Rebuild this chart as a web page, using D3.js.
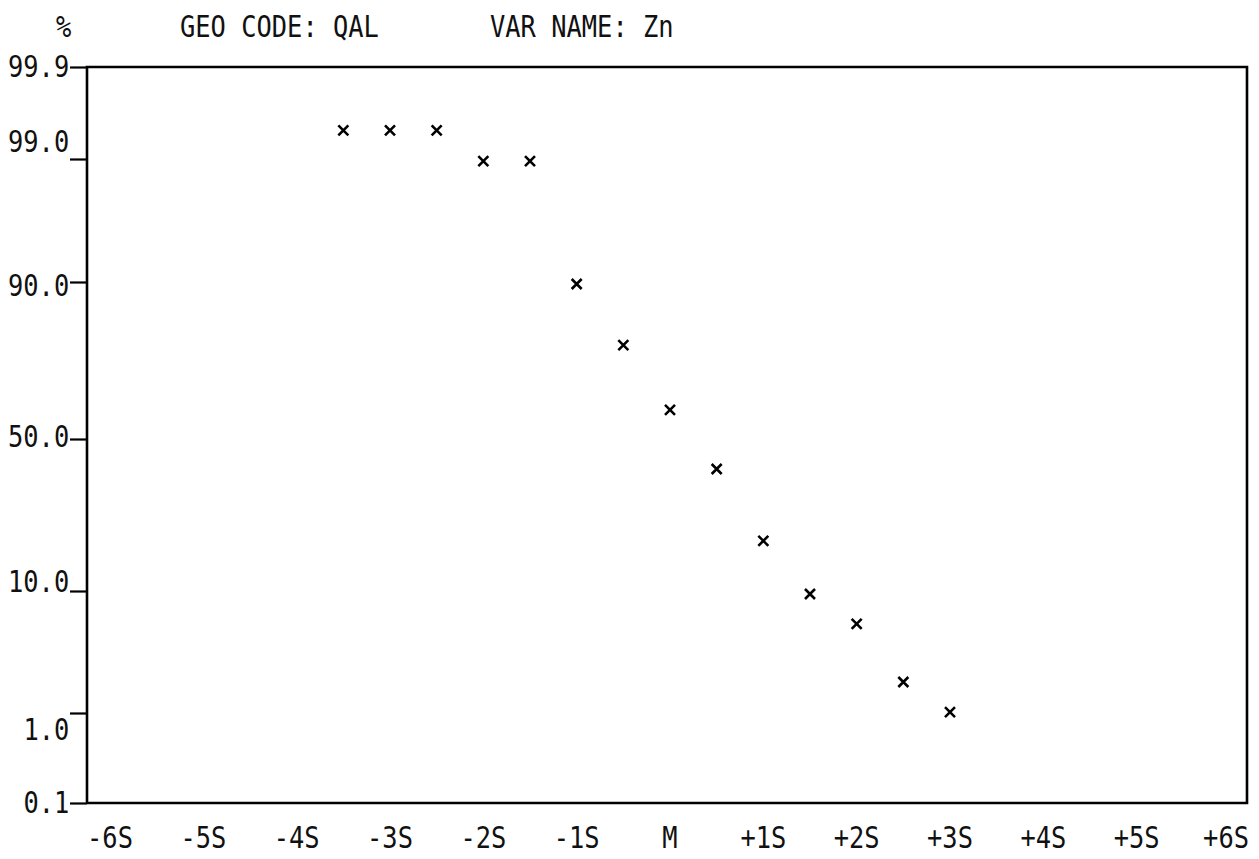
<!DOCTYPE html>
<html>
<head>
<meta charset="utf-8">
<script src="https://cdn.jsdelivr.net/npm/d3@7"></script>
<style>
  html, body { margin: 0; padding: 0; background: #ffffff; }
  svg { display: block; }
  text { font-family: "DejaVu Sans Mono", monospace; fill: #111; }
</style>
</head>
<body>
<svg id="chart" width="1259" height="859"></svg>
<script>
// ---- data ----
const titleParts = ["%", "GEO CODE: QAL", "VAR NAME: Zn"];
const sigmaPos = [-3.5, -3, -2.5, -2, -1.5, -1, -0.5, 0, 0.5, 1, 1.5, 2, 2.5, 3];
const cumPercent = [99.28, 99.28, 99.28, 98.85, 98.85, 89.5, 73.9, 57.4, 42.1, 23.2, 9.78, 7.57, 3.29, 1.07];
const yTickValues = [0.1, 1, 10, 50, 90, 99, 99.9];
const yTickLabels = ["0.1", "1.0", "10.0", "50.0", "90.0", "99.0", "99.9"];
const xTickValues = [-6, -5, -4, -3, -2, -1, 0, 1, 2, 3, 4, 5, 6];
const xTickLabels = ["-6S", "-5S", "-4S", "-3S", "-2S", "-1S", "M", "+1S", "+2S", "+3S", "+4S", "+5S", "+6S"];

// ---- layout ----
const W = 1259;
const svg = d3.select("#chart");
const frame = { left: 87, right: 1247, top: 67, bottom: 803 };
const charW = 15.3;
const fontSize = 30;

// probability-paper style axis: piecewise scale through the printed tick positions
const y = d3.scaleLinear()
  .domain(yTickValues)
  .range([803, 713, 591, 439, 282, 159, 67]);
const x = d3.scaleLinear().domain([-6, 6]).range([110, 1230]);

function monoText(g, str, xStart, yBase) {
  return g.append("text")
    .attr("x", xStart)
    .attr("y", yBase)
    .attr("font-size", fontSize)
    .attr("textLength", str.length * charW)
    .attr("lengthAdjust", "spacingAndGlyphs")
    .attr("xml:space", "preserve")
    .text(str);
}

// ---- header ----
const head = svg.append("g");
const headCols = [0, 8, 28];
titleParts.forEach((t, i) => monoText(head, t, 56 + headCols[i] * 15.5, 37));

// ---- frame ----
svg.append("path")
  .attr("d", `M${frame.left},${frame.bottom}V${frame.top}H${frame.right}V${frame.bottom}H${frame.left}`)
  .attr("fill", "none")
  .attr("stroke", "#000")
  .attr("stroke-width", 2.6);

// ---- y axis ticks ----
const yAxis = d3.axisLeft(y).tickValues(yTickValues).tickSize(17).tickFormat(() => "");
const yg = svg.append("g").attr("transform", `translate(${frame.left},0)`).call(yAxis);
yg.select(".domain").remove();
yg.selectAll(".tick line").attr("stroke", "#000").attr("stroke-width", 2.2);

// y labels (printed on a character grid, so they sit a bit off their ticks)
const labelNudge = { 0.1: 10, 1: 27, 10: 1, 50: 8, 90: 14, 99: -7, 99.9: 10 };
const ylab = svg.append("g");
yTickValues.forEach((v, i) => {
  const s = yTickLabels[i];
  monoText(ylab, s, 70 - s.length * 15.5, y(v) + labelNudge[v]);
});

// ---- x labels ----
const xlab = svg.append("g");
xTickValues.forEach((v, i) => {
  const s = xTickLabels[i];
  const w = s.length * charW;
  const x0 = Math.min(x(v) - w / 2, W - 10 - w);
  monoText(xlab, s, x0, 848);
});

// ---- points ----
const pts = svg.append("g");
pts.selectAll("path.pt")
  .data(sigmaPos.map((s, i) => ({ s, p: cumPercent[i] })))
  .join("path")
  .attr("class", "pt")
  .attr("transform", d => `translate(${x(d.s)},${y(d.p)})`)
  .attr("d", "M-5,-5L5,5M-5,5L5,-5")
  .attr("fill", "none")
  .attr("stroke", "#000")
  .attr("stroke-width", 2.6);
</script>
</body>
</html>
